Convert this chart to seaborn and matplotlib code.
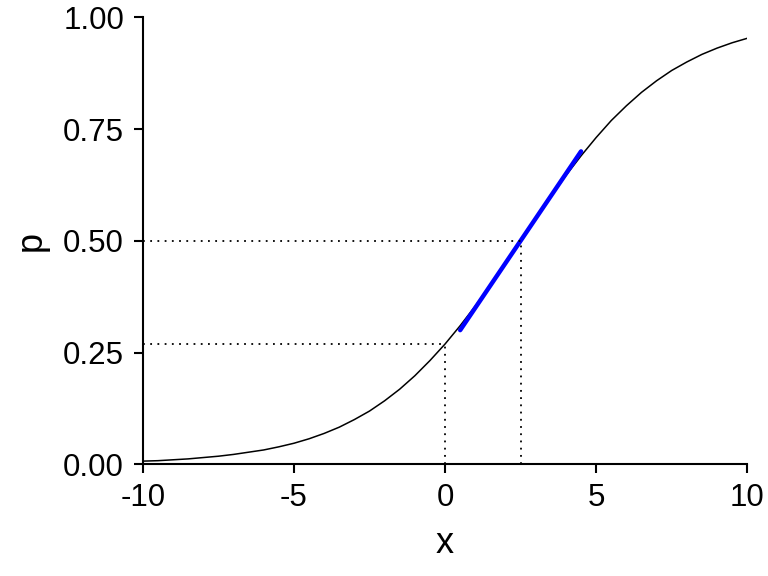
import matplotlib
matplotlib.use("Agg")
import matplotlib.pyplot as plt
import seaborn as sns
import pandas as pd

# Logistic curve
x_vals = [-10, -9.5, -9, -8.5, -8, -7.5, -7, -6.5, -6, -5.5, -5, -4.5, -4, -3.5,
          -3, -2.5, -2, -1.5, -1, -0.5, 0, 0.5, 1, 1.5, 2, 2.5, 3, 3.5, 4, 4.5,
          5, 5.5, 6, 6.5, 7, 7.5, 8, 8.5, 9, 9.5, 10]
p_vals = [0.007, 0.008, 0.010, 0.012, 0.015, 0.018, 0.022, 0.027, 0.032, 0.039,
          0.047, 0.057, 0.069, 0.083, 0.100, 0.119, 0.142, 0.168, 0.198, 0.232,
          0.269, 0.310, 0.354, 0.401, 0.450, 0.500, 0.550, 0.599, 0.646, 0.690,
          0.731, 0.769, 0.802, 0.832, 0.858, 0.881, 0.900, 0.917, 0.931, 0.943,
          0.953]

# Tangent segment (blue)
tan_x = [0.5, 4.5]
tan_p = [0.30, 0.70]

# Reference (dotted) points
ref_x = [0.0, 2.5]
ref_p = [0.269, 0.5]

x_ticks = [-10, -5, 0, 5, 10]
y_ticks = [0.00, 0.25, 0.50, 0.75, 1.00]
y_tick_labels = ["0.00", "0.25", "0.50", "0.75", "1.00"]

sns.set_style("ticks")
plt.rcParams['font.family'] = ['Liberation Sans', 'DejaVu Sans']
plt.rcParams['text.color'] = 'black'
plt.rcParams['axes.labelcolor'] = 'black'

fig = plt.figure(figsize=(7.68, 5.76), dpi=100)
ax = fig.add_axes([0.186, 0.194, 0.787, 0.776])

curve = pd.DataFrame({"x": x_vals, "p": p_vals})
tangent = pd.DataFrame({"x": tan_x, "p": tan_p})

sns.lineplot(data=curve, x="x", y="p", ax=ax, color="black", lw=1.1)
sns.lineplot(data=tangent, x="x", y="p", ax=ax, color="#0000FF", lw=3.2)

for rx, rp in zip(ref_x, ref_p):
    ax.plot([x_ticks[0], rx], [rp, rp], color="black", lw=1.3, ls=(0, (1, 3)))
    ax.plot([rx, rx], [y_ticks[0], rp], color="black", lw=1.3, ls=(0, (1, 3)))

ax.set_xlim(-10, 10)
ax.set_ylim(0, 1)
ax.set_xticks(x_ticks)
ax.set_xticklabels([str(v) for v in x_ticks])
ax.set_yticks(y_ticks)
ax.set_yticklabels(y_tick_labels)
ax.tick_params(axis="both", labelsize=22.5, length=6.5, width=1.5, color="black",
               labelcolor="black")
ax.tick_params(axis="y", pad=7)
ax.tick_params(axis="x", pad=7)
for s in ["left", "bottom"]:
    ax.spines[s].set_linewidth(1.5)
    ax.spines[s].set_color("black")
sns.despine(ax=ax)
ax.set_xlabel("x", fontsize=26, labelpad=9, color="black")
ax.set_ylabel("p", fontsize=26, labelpad=10, color="black")

fig.savefig("out.png", dpi=100)
